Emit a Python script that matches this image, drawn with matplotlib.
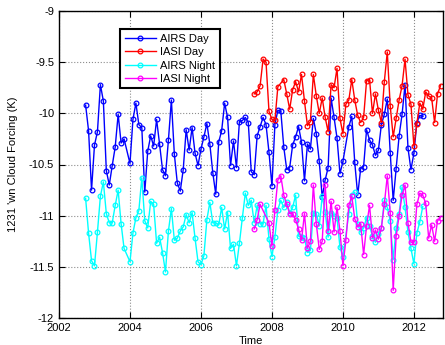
import numpy as np
import matplotlib
matplotlib.use('Agg')
import matplotlib.pyplot as plt

plt.rcParams['font.family'] = ['Liberation Sans', 'DejaVu Sans']

# monthly means; NaN marks a missing month (skipped, line joins across)
AIRS_START = 2002.75
IASI_START = 2007.5

airs_day = [
    -9.92, -10.17, -10.75, -10.31, -10.18, -9.72, -9.88, -10.56, -10.70, -10.51,
    -10.33, -10.01, -10.29, -10.25, np.nan, -10.49, -10.06, -9.90, -10.11, -10.14,
    -10.77, -10.37, -10.22, -10.32, -10.06, -10.30, -10.55, -10.61, -10.26, -9.87,
    -10.40, -10.68, -10.76, -10.55, -10.16, -10.36, -10.14, -10.39, -10.51, -10.35,
    -10.23, -10.10, -10.30, -10.58, -10.79, -10.28, -10.17, -9.90, -10.04, -10.51,
    -10.27, -10.53, -10.08, -10.07, -10.04, -10.09, -10.57, -10.60, -10.22, -10.13,
    -10.04, -10.11, -10.38, -10.71, -10.11, -9.97, -9.98, -10.33, -10.55, -10.53,
    -10.31, -10.23, -10.13, -10.28, -10.66, -10.30, -10.35, -10.05, -10.20, -10.47,
    -10.82, -10.65, -10.53, -9.85, -10.04, -10.24, -10.59, -10.47, np.nan, -10.13,
    -10.03, -10.48, -10.80, -10.54, -10.52, -10.16, -10.26, -10.31, -10.41, -10.36,
    -10.11, -10.01, -9.86, -10.39, -10.85, -10.54, -10.22, -10.01, -9.72, -10.34,
    -10.55, -10.39, -10.09, -10.02, -10.03,
]

airs_night = [
    -10.83, -11.17, -11.44, -11.49, -11.16, -10.81, -10.67, -10.98, -11.07, -11.07,
    -10.90, -10.75, -11.08, -11.32, np.nan, -11.45, -11.17, -11.02, -10.95, -10.63,
    -11.05, -11.12, -10.86, -10.89, -11.27, -11.21, -11.36, -11.55, -11.15, -10.93,
    -11.24, -11.22, -11.15, -11.11, -10.99, -11.07, -10.97, -11.22, -11.45, -11.48,
    -11.39, -11.04, -10.87, -11.07, -11.07, -11.09, -10.92, -11.13, -10.97, -11.32,
    -11.28, -11.49, -11.27, -11.02, -10.78, -10.90, -10.85, -11.07, -10.90, -11.08,
    -11.08, -10.90, -11.23, -11.40, -11.21, -10.94, -10.85, -10.92, -10.87, -10.97,
    -10.92, -10.80, -11.20, -11.21, -11.22, -11.36, -11.34, -10.97, -10.98, -11.10,
    -10.81, -10.96, -11.21, -10.97, -11.00, -11.02, -11.31, -11.40, np.nan, -10.98,
    -10.80, -10.77, -11.08, -11.16, -11.12, -11.02, -11.10, -11.20, -11.26, -11.18,
    -11.12, -10.85, -10.92, -11.05, -11.43, -11.12, -10.98, -10.72, -10.92, -11.16,
    -11.32, -11.47, -11.17, -11.06, -10.91,
]

iasi_day = [
    -9.81, -9.79, -9.73, -9.47, -9.50, -9.98, -10.06, -10.07, -9.74, np.nan,
    -9.67, -9.81, -9.96, -9.77, -9.69, -9.79, -9.62, -9.88, -10.12, -10.08,
    -9.62, -9.83, -10.00, -9.85, -10.04, -10.18, -9.72, -9.75, -9.56, -10.05,
    -10.20, -9.91, -9.87, -9.67, -9.87, -10.02, -10.09, -10.04, -9.68, -9.67,
    -10.00, -9.81, -9.97, -10.09, -9.69, -9.40, -9.93, -10.23, -10.05, -9.87,
    -9.73, -9.47, -9.82, -9.91, -10.32, -10.10, -9.90, -9.96, -9.79, -9.83,
    -9.85, -10.09, -9.81, -9.73,
]

iasi_night = [
    -11.13, -11.04, -10.89, np.nan, np.nan, -11.07, -11.30, -10.94, -10.65, -10.61,
    -10.80, -10.89, -10.98, -10.98, -11.04, -11.13, -11.24, -10.98, -11.32, -11.25,
    -10.70, -11.08, -11.33, -11.25, -10.70, -11.15, -10.86, -11.16, -10.92, -11.15,
    -11.49, -11.24, -10.90, -10.81, -11.03, -11.11, -11.08, -11.38, -11.10, -10.90,
    -11.22, -11.14, -11.23, -11.12, -10.89, -10.61, -10.97, -11.73, -11.20, -11.00,
    -10.80, -10.70, -11.07, -11.26, -11.26, -10.89, -10.78, -10.80, -10.88, -11.22,
    -11.09, -11.25, -11.05, -11.02,
]

series = [
    ('AIRS Day', AIRS_START, airs_day, '#0000ff'),
    ('IASI Day', IASI_START, iasi_day, '#ff0000'),
    ('AIRS Night', AIRS_START, airs_night, '#00ffff'),
    ('IASI Night', IASI_START, iasi_night, '#ff00ff'),
]

fig = plt.figure(figsize=(4.45, 3.45), dpi=100)
ax = fig.add_axes([59 / 445, 27 / 345, 384 / 445, 307 / 345])

for label, t0, vals, col in series:
    vals = np.asarray(vals, dtype=float)
    t = t0 + np.arange(len(vals)) / 12.0
    ok = ~np.isnan(vals)
    ax.plot(t[ok], vals[ok], '-o', color=col, lw=1.0, ms=3.4,
            mfc='none', mew=0.9, label=label)

ax.set_xlim(2002, 2012.82)
ax.set_ylim(-12, -9)
ax.set_xticks(np.arange(2002, 2013, 2))
ax.set_yticks(np.arange(-12, -8.9, 0.5))
ax.set_yticklabels(['-12', '-11.5', '-11', '-10.5', '-10', '-9.5', '-9'])
ax.tick_params(direction='in', top=True, right=True, labelsize=8, length=4, width=0.8)
ax.grid(True, linestyle=':', color='0.55', linewidth=0.8)
for s in ax.spines.values():
    s.set_linewidth(1.0)

ax.set_xlabel('Time', fontsize=8, labelpad=2)
ax.set_ylabel("1231 'wn Cloud Forcing (K)", fontsize=8, labelpad=8)

leg = ax.legend(loc='upper left', bbox_to_anchor=(0.16, 0.94), fontsize=8,
                numpoints=1, handlelength=2.8, handletextpad=0.4,
                borderpad=0.4, labelspacing=0.3, fancybox=False,
                framealpha=1, edgecolor='k', borderaxespad=0)
leg.get_frame().set_linewidth(1.5)

fig.savefig('out.png', dpi=100)
